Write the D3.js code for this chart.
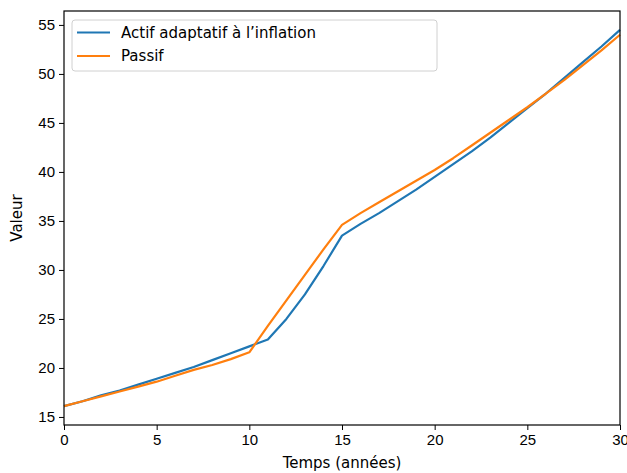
<!DOCTYPE html>
<html>
<head>
<meta charset="utf-8">
<script src="https://cdn.jsdelivr.net/npm/d3@7"></script>
<style>
  body { margin: 0; background: #fff; }
  svg { font-family: 'DejaVu Sans', sans-serif; }
  .axis text { font-size: 15px; fill: #000; }
  .axis line, .axis path { stroke: #000; }
</style>
</head>
<body>
<svg id="chart" width="627" height="473"></svg>
<script>
const years = d3.range(0, 31);

const actif = [16.1, 16.6, 17.2, 17.7, 18.3, 18.9, 19.5, 20.1, 20.8, 21.5, 22.2,
  22.9, 25.0, 27.5, 30.4, 33.5, 34.7, 35.8, 37.0, 38.2, 39.5, 40.8, 42.1, 43.5,
  45.0, 46.5, 48.0, 49.6, 51.2, 52.8, 54.5];

const passif = [16.1, 16.6, 17.1, 17.6, 18.1, 18.6, 19.2, 19.8, 20.3, 20.9, 21.6,
  24.3, 26.9, 29.5, 32.1, 34.6, 35.8, 36.9, 38.0, 39.1, 40.2, 41.4, 42.7, 44.0,
  45.3, 46.6, 48.0, 49.4, 50.9, 52.4, 54.0];

const seriesNames = ['Actif adaptatif à l’inflation', 'Passif'];
const xTicks = [0, 5, 10, 15, 20, 25, 30];
const yTicks = [15, 20, 25, 30, 35, 40, 45, 50, 55];

const margin = { top: 11, right: 7, bottom: 48, left: 64 };
const width = 627 - margin.left - margin.right;
const height = 473 - margin.top - margin.bottom;

const svg = d3.select('#chart');
const root = svg.append('g').attr('transform', `translate(${margin.left},${margin.top})`);

const series = [
  { name: seriesNames[0], values: actif, color: '#1f77b4' },
  { name: seriesNames[1], values: passif, color: '#ff7f0e' },
];

// matplotlib style 5% padding on y
const allVals = actif.concat(passif);
const [lo, hi] = d3.extent(allVals);
const pad = (hi - lo) * 0.05;

const x = d3.scaleLinear().domain([0, 30]).range([0, width]);
const y = d3.scaleLinear().domain([lo - pad, hi + pad]).range([height, 0]);

const line = d3.line()
  .x((d, i) => x(years[i]))
  .y(d => y(d));

series.forEach(s => {
  root.append('path')
    .datum(s.values)
    .attr('fill', 'none')
    .attr('stroke', s.color)
    .attr('stroke-width', 2.2)
    .attr('stroke-linejoin', 'round')
    .attr('d', line);
});

// axes
root.append('g')
  .attr('class', 'axis')
  .attr('transform', `translate(0,${height})`)
  .call(d3.axisBottom(x).tickValues(xTicks).tickSize(5).tickPadding(4).tickFormat(d3.format('d')))
  .call(g => g.select('.domain').remove());

root.append('g')
  .attr('class', 'axis')
  .call(d3.axisLeft(y).tickValues(yTicks).tickSize(5).tickPadding(4).tickFormat(d3.format('d')))
  .call(g => g.select('.domain').remove());

// frame (spines)
root.append('rect')
  .attr('x', 0).attr('y', 0)
  .attr('width', width).attr('height', height)
  .attr('fill', 'none')
  .attr('stroke', '#000')
  .attr('stroke-width', 1.2);

// labels
svg.append('text')
  .attr('x', margin.left + width / 2)
  .attr('y', 468)
  .attr('text-anchor', 'middle')
  .attr('font-size', 15)
  .text('Temps (années)');

svg.append('text')
  .attr('transform', `translate(22,${margin.top + height / 2}) rotate(-90)`)
  .attr('text-anchor', 'middle')
  .attr('font-size', 15)
  .text('Valeur');

// legend
const legend = root.append('g').attr('transform', 'translate(8,9)');
legend.append('rect')
  .attr('width', 365).attr('height', 51)
  .attr('rx', 3)
  .attr('fill', '#fff')
  .attr('fill-opacity', 0.8)
  .attr('stroke', '#d0d0d0');

series.forEach((s, i) => {
  const gy = 12.5 + i * 23.5;
  legend.append('line')
    .attr('x1', 5).attr('x2', 38)
    .attr('y1', gy).attr('y2', gy)
    .attr('stroke', s.color)
    .attr('stroke-width', 2.2);
  legend.append('text')
    .attr('x', 49).attr('y', gy)
    .attr('dy', '0.35em')
    .attr('font-size', 15)
    .text(s.name);
});
</script>
</body>
</html>
